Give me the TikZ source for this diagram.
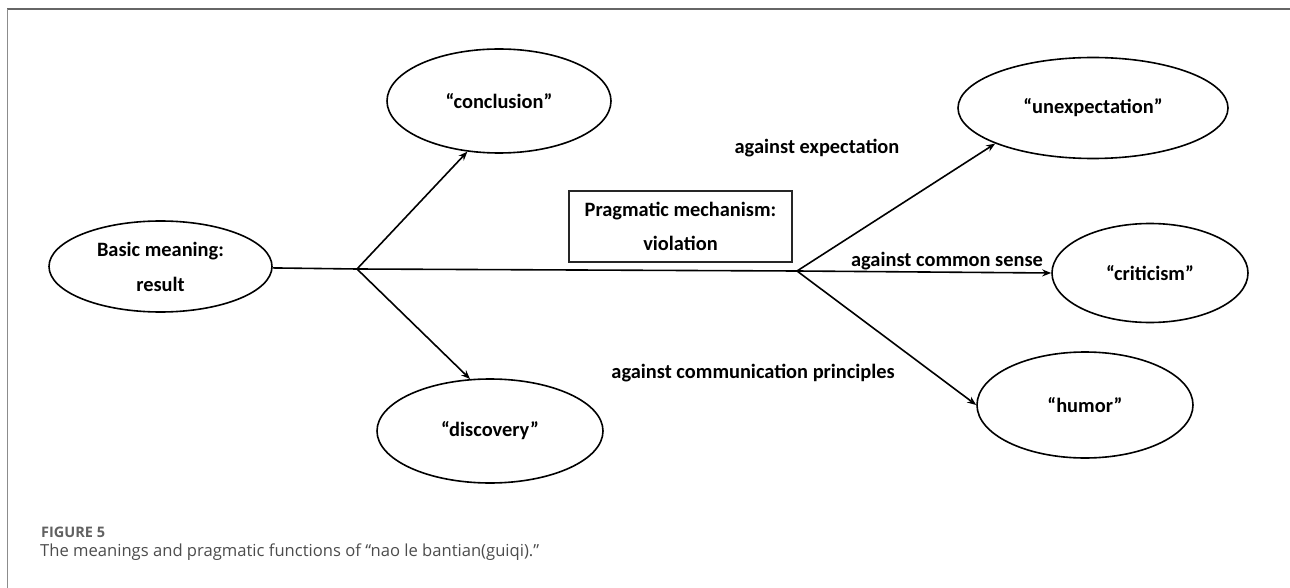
\documentclass[tikz,border=0pt]{standalone}
\usepackage{fontspec}
\setmainfont{Carlito}
\newfontfamily\capfont{Open Sans}
\usetikzlibrary{arrows.meta,shapes.geometric}
\begin{document}
\begin{tikzpicture}[x=1pt,y=-1pt,
  oval/.style={ellipse, draw=black, line width=1.6pt, inner sep=0pt, align=center,
    font=\fontsize{20.4}{35}\selectfont\bfseries},
  mechbox/.style={rectangle, draw=black!85, line width=1.3pt, inner sep=0pt, align=center,
    minimum width=223, minimum height=71, font=\fontsize{20.4}{34}\selectfont\bfseries},
  lbl/.style={font=\fontsize{20.4}{24}\selectfont\bfseries, inner sep=0pt},
  conn/.style={line width=1.6pt, draw=black},
  arr/.style={conn, -{Stealth[length=9pt,width=7pt]}},
]
\useasboundingbox (0,0) rectangle (1290,588);
% frame
\draw[line width=2.5pt, black!60] (7,9) -- (1290,9);
\draw[line width=1pt, black!45] (7,9) -- (7,588);

% nodes
\node[oval, minimum width=223, minimum height=91] (basic) at (160.5,266.5) {Basic meaning:\\result};
\node[oval, minimum width=224, minimum height=104] (conc) at (499,101) {“conclusion”};
\node[oval, minimum width=226, minimum height=104] (disc) at (490,431) {“discovery”};
\node[mechbox] (mech) at (680.5,226.5) {Pragmatic mechanism:\\violation};
\node[oval, minimum width=270, minimum height=101] (unexp) at (1093,108) {“unexpectation”};
\node[oval, minimum width=196, minimum height=99] (crit) at (1150,273) {“criticism”};
\node[oval, minimum width=216, minimum height=106] (humor) at (1085,405) {“humor”};

\coordinate (J1) at (357,269);
\coordinate (J2) at (797,271);

% connectors
\draw[conn] (basic) -- (J1) -- (J2);
\draw[arr] (J1) -- (conc.238);
\draw[arr] (J1) -- (disc.111);
\draw[arr] (J2) -- (unexp.200);
\draw[arr] (J2) -- (crit.west);
\draw[arr] (J2) -- (humor.west);

% labels
\node[lbl] (l1) at (817,148) {against expectation};
\node[lbl] (l2) at (947,261) {against common sense};
\node[lbl, anchor=east] (l3) at (895,373) {against communication principles};

% caption
\node[anchor=west, inner sep=0pt, text=black!62, font=\capfont\bfseries\fontsize{14.5}{17}\selectfont] (fig) at (41,532) {FIGURE 5};
\node[anchor=west, inner sep=0pt, text=black!70, font=\capfont\fontsize{16.6}{20}\selectfont] (cap) at (40,552) {The meanings and pragmatic functions of “nao le bantian(guiqi).”};
\end{tikzpicture}
\end{document}
